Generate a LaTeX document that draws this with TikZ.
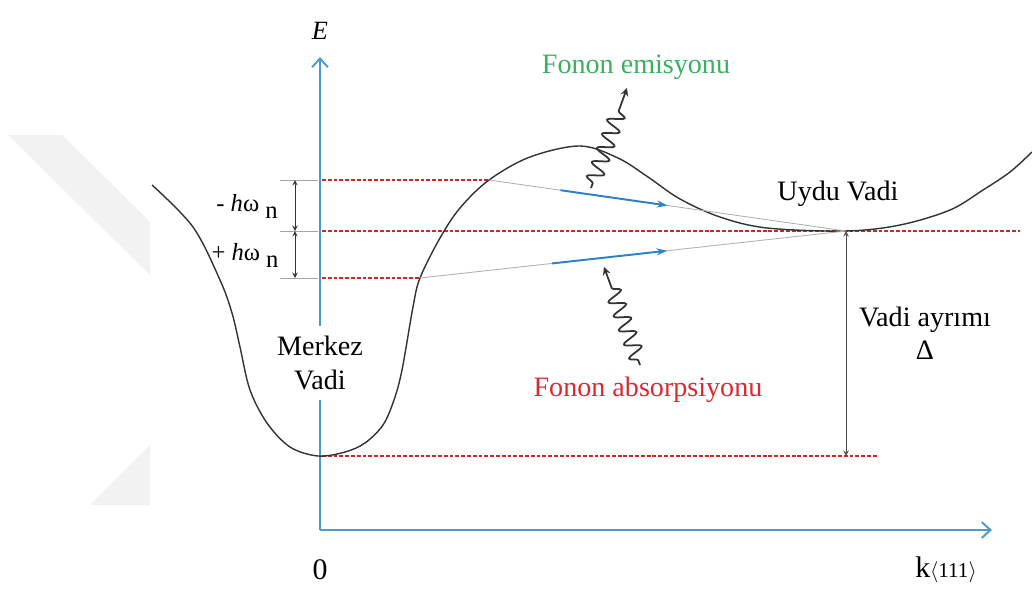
\documentclass[tikz,border=0pt]{standalone}
\usepackage{fontspec}
\setmainfont{Liberation Serif}
\usetikzlibrary{arrows,arrows.meta,decorations.pathmorphing,calc}
\definecolor{axisblue}{RGB}{75,155,205}
\definecolor{dotred}{RGB}{200,40,40}
\definecolor{emigreen}{RGB}{60,175,100}
\definecolor{absred}{RGB}{220,40,50}
\definecolor{flowblue}{RGB}{45,130,195}
\newcommand{\hwn}{\textit{h}ω\ \raisebox{-4pt}{n}}

\begin{document}
\begin{tikzpicture}[x=0.02cm, y=-0.02cm, >=stealth,
    every node/.style={font=\fontsize{16}{19}\selectfont},
    axis/.style={axisblue, line width=1.1pt, -{Straight Barb[length=5pt,width=9pt]}},
    level/.style={dotred, line width=0.9pt, dash pattern=on 2.2pt off 1.1pt},
    tick/.style={gray!70, line width=0.4pt},
    trans/.style={gray!60, line width=0.5pt},
    flow/.style={flowblue, line width=1.1pt, -{Stealth[length=6pt,width=4pt]}},
    phonon/.style={black!80, line width=1pt, decorate,
      decoration={snake, amplitude=1.6mm, segment length=3mm,
                  pre length=1mm, post length=4.5mm}}]
  \useasboundingbox (0,0) rectangle (1032,589);
  \fill[white] (0,0) rectangle (1032,589);
  % watermark
  \fill[gray!10] (8,135) -- (62,135) -- (150,222) -- (150,275) -- cycle;
  \fill[gray!10] (90,505) -- (150,505) -- (150,445) -- cycle;
  % axes
  \coordinate (O)    at (320,530);
  \coordinate (Etip) at (320,57);
  \coordinate (ktip) at (992,530);
  \draw[axis] (O) -- (Etip);
  \draw[axis] (O) -- (ktip);
  \node[font=\fontsize{15}{16}\selectfont\itshape] (E) at (320,31) {E};
  \node[font=\fontsize{17}{18}\selectfont] (zero) at (320,570) {0};
  \node[font=\fontsize{17}{18}\selectfont] (k) at (946,570)
       {k{\fontsize{12}{13}\selectfont$\langle$111$\rangle$}};
  % energy levels
  \coordinate (top)  at (322,180);  \coordinate (topc) at (489,180);
  \coordinate (mid)  at (322,231);  \coordinate (midr) at (1020,231);
  \coordinate (low)  at (322,278);  \coordinate (lowc) at (420,278);
  \coordinate (base) at (322,456);  \coordinate (baser) at (878,456);
  \coordinate (sat)  at (846,231);  \coordinate (satb) at (846,456);
  \draw[level] (top) -- (topc);
  \draw[level] (mid) -- (midr);
  \draw[level] (low) -- (lowc);
  \draw[level] (base) -- (baser);
  % hbar omega ticks
  \foreach \y in {180,231,278} \draw[tick] (280,\y) -- (318,\y);
  \coordinate (ha) at (295,180);
  \coordinate (hb) at (295,231);
  \coordinate (hc) at (295,278);
  \draw[tick, black!80, <->] (ha) -- (hb);
  \draw[tick, black!80, <->] (hb) -- (hc);
  \node[font=\fontsize{14}{16}\selectfont] (hwm) at (247,206) {-\ \hwn};
  \node[font=\fontsize{14}{16}\selectfont] (hwp) at (245,255) {+\ \hwn};
  % valley curve
  \draw[black!80, line width=0.8pt] plot[smooth, tension=0.55] coordinates {
    (152,185) (193,227) (220,280) (232,313) (240,347) (250,390)
    (267,423) (290,447) (318,456) (345,452) (365,443) (383,425)
    (394,400) (402,370) (413,307) (420,278) (440,238) (460,208)
    (489,180) (530,157) (580,146) (618,158) (648,177) (680,199)
    (720,217) (767,228) (846,231) (900,225) (950,210) (983,190)
    (1010,172) (1032,152)};
  % transitions
  \draw[trans] (topc) -- (sat);
  \draw[trans] (lowc) -- (sat);
  \draw[flow] ($(topc)!0.2!(sat)$) -- ($(topc)!0.5!(sat)$);
  \draw[flow] ($(lowc)!0.31!(sat)$) -- ($(lowc)!0.58!(sat)$);
  % phonons
  \coordinate (emA) at (591,188);  \coordinate (emB) at (627,88);
  \coordinate (abA) at (640,365);  \coordinate (abB) at (604,267);
  \draw[phonon, ->] (emA) -- (emB);
  \draw[phonon, ->] (abA) -- (abB);
  % valley separation
  \draw[tick, black!70, <->] (sat) -- (satb);
  % labels
  \node[fill=white, inner sep=6pt, align=center] (merkez) at (320,363)
       {Merkez\\Vadi};
  \node (uydu) at (838,194) {Uydu Vadi};
  \node[align=center] (ayrim) at (925,333) {Vadi ayrımı\\Δ};
  \node[emigreen] (emis) at (636,67) {Fonon emisyonu};
  \node[absred] (abso) at (648,390) {Fonon absorpsiyonu};
\end{tikzpicture}
\end{document}
